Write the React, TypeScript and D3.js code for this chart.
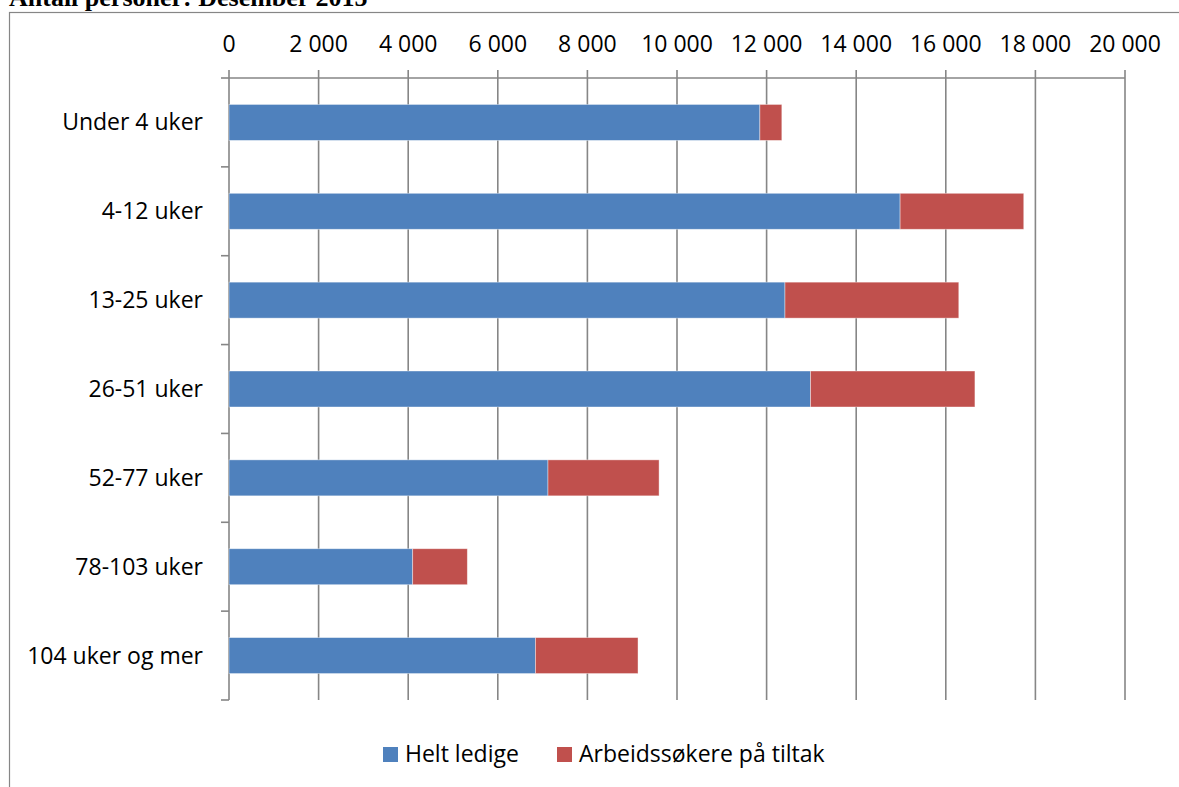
import React from 'react';
import * as d3 from 'd3';

const categories = ['Under 4 uker', '4-12 uker', '13-25 uker', '26-51 uker', '52-77 uker', '78-103 uker', '104 uker og mer'];
const heltLedige = [11850, 14980, 12410, 12980, 7120, 4100, 6840];
const paaTiltak = [490, 2760, 3880, 3670, 2480, 1220, 2290];
const seriesNames = ['Helt ledige', 'Arbeidssøkere på tiltak'];
const seriesColors = ['#4F81BD', '#C0504D'];
const xTicks = [0, 2000, 4000, 6000, 8000, 10000, 12000, 14000, 16000, 18000, 20000];

const W = 1179;
const H = 787;
const FONT = '"Open Sans", sans-serif';
const fmt = (v: number) => d3.format(',')(v).replace(/,/g, ' ');

const App: React.FC = () => {
    const plot = { left: 229, right: 1125, top: 78, bottom: 700 };

    const x = d3.scaleLinear().domain([0, 20000]).range([plot.left, plot.right]);
    const y = d3.scaleBand<string>()
        .domain(categories)
        .range([plot.top, plot.bottom])
        .paddingInner(0.595)
        .paddingOuter(0.2975);
    const band = (plot.bottom - plot.top) / categories.length;

    const rows = categories.map((c, i) => ({ cat: c, a: heltLedige[i], b: paaTiltak[i] }));
    const stack = d3.stack<{ cat: string; a: number; b: number }>().keys(['a', 'b'])(rows);

    const grid = '#868686';

    return (
        <svg width={W} height={H} style={{ position: 'absolute', left: 0, top: 0, background: '#fff' }}>
            {/* title, cut at top like the source */}
            <text x={9} y={6} fontFamily='"Liberation Serif", "Times New Roman", serif' fontWeight="bold" fontSize={26} fill="#000">
                Antall personer: Desember 2015
            </text>

            {/* chart area border */}
            <rect x={9.5} y={12.5} width={W + 10} height={H + 10} fill="#fff" stroke="#868686" strokeWidth={1.2} />

            {/* gridlines + top axis ticks */}
            {xTicks.map(t => (
                <g key={t}>
                    <line x1={x(t)} x2={x(t)} y1={plot.top - 8} y2={plot.bottom} stroke={grid} strokeWidth={1.6} />
                    <text x={x(t)} y={52} textAnchor="middle" fontFamily={FONT} fontSize={23} fill="#000">
                        {fmt(t)}
                    </text>
                </g>
            ))}
            <line x1={plot.left} x2={plot.right} y1={plot.top} y2={plot.top} stroke={grid} strokeWidth={1.6} />

            {/* category axis ticks */}
            {d3.range(categories.length + 1).map(i => (
                <line key={i} x1={plot.left - 8} x2={plot.left} y1={plot.top + i * band} y2={plot.top + i * band} stroke={grid} strokeWidth={1.6} />
            ))}

            {/* bars */}
            {stack.map((s, si) => (
                <g key={s.key} fill={seriesColors[si]}>
                    {s.map(d => (
                        <rect
                            key={d.data.cat}
                            x={x(d[0])}
                            y={y(d.data.cat)}
                            width={x(d[1]) - x(d[0])}
                            height={y.bandwidth()}
                            stroke="#ffffff"
                            strokeOpacity={0.5}
                            strokeWidth={0.8}
                        />
                    ))}
                </g>
            ))}

            {/* category labels */}
            {categories.map(c => (
                <text key={c} x={203} y={(y(c) ?? 0) + y.bandwidth() / 2} dy="0.35em" textAnchor="end" fontFamily={FONT} fontSize={23} fill="#000">
                    {c}
                </text>
            ))}

            {/* legend */}
            <g fontFamily={FONT} fontSize={23} fill="#000">
                <rect x={383} y={747} width={15} height={15} fill={seriesColors[0]} />
                <text x={405} y={754} dy="0.35em">{seriesNames[0]}</text>
                <rect x={557} y={747} width={15} height={15} fill={seriesColors[1]} />
                <text x={579} y={754} dy="0.35em">{seriesNames[1]}</text>
            </g>
        </svg>
    );
};

export default App;
